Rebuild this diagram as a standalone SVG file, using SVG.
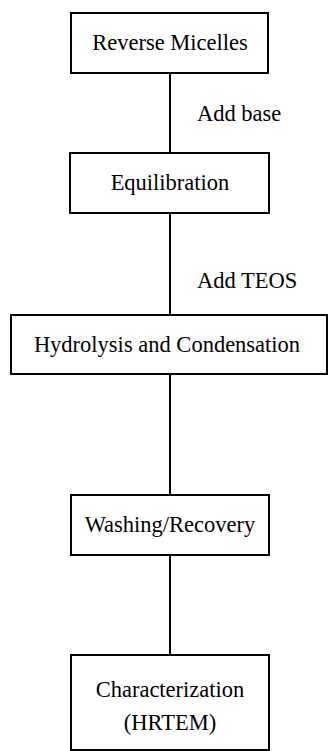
<svg xmlns="http://www.w3.org/2000/svg" width="328" height="751" viewBox="0 0 328 751">
<style>
.box{fill:#fff;stroke:#000;stroke-width:2}
.t{font-family:"Liberation Serif","Times New Roman",serif;font-size:22.5px;fill:#000}
.c{text-anchor:middle}
.ln{stroke:#000;stroke-width:2;fill:none}
</style>
<rect width="328" height="751" fill="#fff"/>
<g id="connectors">
<line class="ln" x1="170" y1="73" x2="170" y2="153"/>
<line class="ln" x1="170" y1="213" x2="170" y2="315"/>
<line class="ln" x1="170" y1="374" x2="170" y2="495"/>
<line class="ln" x1="170" y1="555" x2="170" y2="655"/>
<text class="t" x="197" y="121">Add base</text>
<text class="t" x="197" y="288">Add TEOS</text>
</g>
<g id="reverse-micelles">
<rect class="box" x="71" y="13" width="197" height="60"/>
<text class="t c" x="170" y="50">Reverse Micelles</text>
</g>
<g id="equilibration">
<rect class="box" x="70" y="153" width="199" height="60"/>
<text class="t c" x="170" y="190">Equilibration</text>
</g>
<g id="hydrolysis">
<rect class="box" x="11" y="315" width="316" height="59"/>
<text class="t c" x="167" y="352">Hydrolysis and Condensation</text>
</g>
<g id="washing">
<rect class="box" x="71" y="495" width="198" height="60"/>
<text class="t c" x="170" y="532">Washing/Recovery</text>
</g>
<g id="characterization">
<rect class="box" x="71" y="655" width="198" height="95"/>
<text class="t c" x="170" y="697">Characterization</text>
<text class="t c" x="170" y="730">(HRTEM)</text>
</g>
</svg>
